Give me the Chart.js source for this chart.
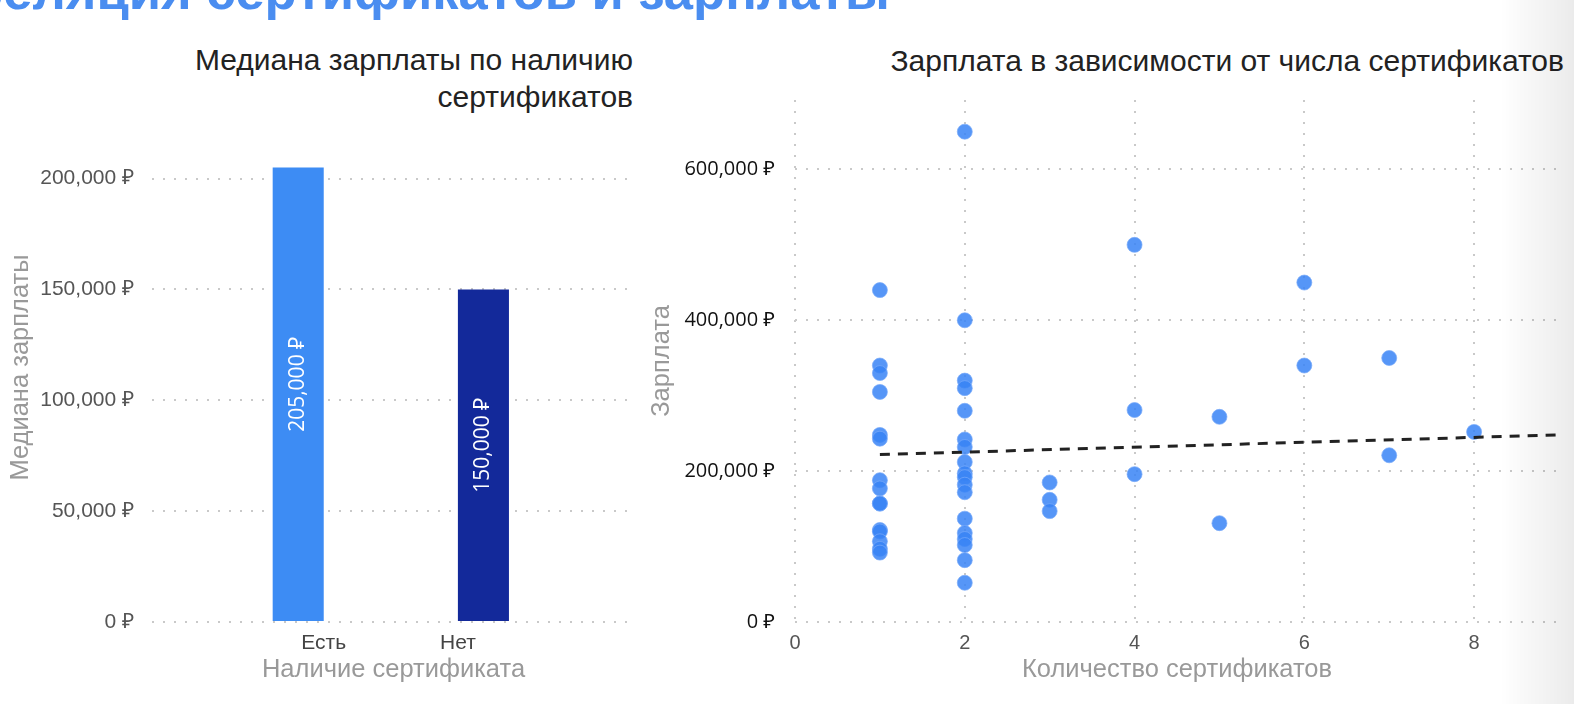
<!DOCTYPE html>
<html><head><meta charset="utf-8">
<script src="https://cdn.jsdelivr.net/npm/chart.js@4.4.1/dist/chart.umd.min.js"></script>
<style>
html,body{margin:0;padding:0;background:#fff;width:1574px;height:704px;overflow:hidden;position:relative;font-family:"Liberation Sans",Arial,sans-serif;}
#hdr{position:absolute;left:-125px;top:-35px;font:bold 52.5px/52px "Liberation Sans",Arial,sans-serif;color:#4a8df0;white-space:nowrap;}
.t{position:absolute;font-size:30px;color:#222;text-align:right;white-space:nowrap;line-height:37px;}
#t1{right:941px;top:41px;}
#t2{right:10px;top:42px;}
#w1{position:absolute;left:0;top:0;width:640px;height:704px;}
#w2{position:absolute;left:640px;top:0;width:934px;height:704px;}
#shade{position:absolute;left:1500px;top:0;width:74px;height:704px;background:linear-gradient(to right,rgba(0,0,0,0),rgba(0,0,0,0.08));pointer-events:none;}
</style></head>
<body>
<div id="hdr">Корреляция сертификатов и зарплаты</div>
<div class="t" id="t1">Медиана зарплаты по наличию<br>сертификатов</div>
<div class="t" id="t2">Зарплата в зависимости от числа сертификатов</div>
<div id="w1"><canvas id="c1" width="640" height="704"></canvas></div>
<div id="w2"><canvas id="c2" width="934" height="704"></canvas></div>
<div id="shade"></div>
<script>
// ---- Left chart data ----
const barCategories = ['Есть', 'Нет'];
const barMedians = [205000, 150000];
const barColors = ['#3d8cf4', '#13299a'];
const barYTicks = [0, 50000, 100000, 150000, 200000];

// ---- Right chart data ----
const certX = [
  1,1,1,1,1,1,1,1,1,1,1,1,1,1,1,
  2,2,2,2,2,2,2,2,2,2,2,2,2,2,2,2,2,2,
  3,3,3,
  4,4,4,
  5,5,
  6,6,
  7,7,
  8
];
const salaryY = [
  440000,340000,330000,305000,248000,243000,188000,177000,157000,157000,122000,120000,107000,97000,92000,
  650000,400000,320000,310000,280000,242000,232000,212000,197000,192000,182000,172000,137000,118000,110000,102000,82000,52000,
  185000,162000,147000,
  500000,281000,196000,
  272000,131000,
  450000,340000,
  350000,221000,
  252000
];
const trendX = [1, 9];
const trendY = [222000, 248000];
const scatterXTicks = [0, 2, 4, 6, 8];
const scatterYTicks = [0, 200000, 400000, 600000];

const rub = v => Number(v).toLocaleString('en-US') + ' ₽';

Chart.defaults.font.family = '"Liberation Sans", Arial, sans-serif';
Chart.defaults.animation = false;

const barLabelPlugin = {
  id: 'barLabels',
  afterDatasetsDraw(chart) {
    const ctx = chart.ctx;
    chart.data.datasets.forEach((ds, di) => {
      const meta = chart.getDatasetMeta(di);
      meta.data.forEach((el, i) => {
        const val = ds.data[i].y;
        ctx.save();
        ctx.translate(el.x, (el.y + el.base) / 2 - 10);
        ctx.rotate(-Math.PI / 2);
        ctx.fillStyle = '#ffffff';
        ctx.font = '21px "Open Sans", "Noto Sans", sans-serif';
        ctx.textAlign = 'center';
        ctx.textBaseline = 'middle';
        ctx.fillText(rub(val), 0, 0);
        ctx.restore();
      });
    });
  }
};

new Chart(document.getElementById('c1'), {
  type: 'bar',
  data: {
    datasets: barCategories.map((c, i) => ({
      label: c,
      data: [{x: i, y: barMedians[i]}],
      backgroundColor: barColors[i],
      categoryPercentage: 0.761,
      barPercentage: 1
    }))
  },
  options: {
    responsive: false,
    layout: {padding: {left: 0, right: 5, top: 113, bottom: 0}},
    plugins: {legend: {display: false}, tooltip: {enabled: false}},
    scales: {
      x: {
        type: 'linear', min: -1.28, max: 2.32, offset: false,
        afterBuildTicks: s => { s.ticks = barCategories.map((c, i) => ({value: i})); },
        afterFit: s => { s.height = 82; },
        grid: {display: false, drawTicks: false, offset: false},
        border: {display: false},
        ticks: {padding: 9, color: '#444', font: {size: 21}, callback: v => barCategories[v]},
        title: {display: true, text: 'Наличие сертификата', color: '#999', font: {size: 25.5}, padding: {top: 0, bottom: 19}}
      },
      y: {
        min: 0, max: 229600,
        afterBuildTicks: s => { s.ticks = barYTicks.map(v => ({value: v})); },
        afterFit: s => { s.width = 152; },
        grid: {color: '#c9c9c9', lineWidth: 2, drawTicks: false},
        border: {display: false, dash: [2, 9]},
        ticks: {padding: 18, color: '#555', font: {size: 21}, callback: v => rub(v)},
        title: {display: true, text: 'Медиана зарплаты', color: '#999', font: {size: 25.5}, padding: {top: 6, bottom: 0}}
      }
    }
  },
  plugins: [barLabelPlugin]
});

new Chart(document.getElementById('c2'), {
  type: 'scatter',
  data: {
    datasets: [
      {
        type: 'line',
        label: 'trend',
        data: trendX.map((x, i) => ({x: x, y: trendY[i]})),
        borderColor: '#222',
        borderWidth: 3,
        borderDash: [10, 8],
        pointRadius: 0,
        fill: false,
        order: 0
      },
      {
        label: 'salary',
        data: certX.map((x, i) => ({x: x, y: salaryY[i]})),
        backgroundColor: 'rgba(56,132,246,0.85)',
        borderColor: 'rgba(120,170,250,0.7)',
        borderWidth: 1,
        pointRadius: 7.5,
        order: 1
      }
    ]
  },
  options: {
    responsive: false,
    layout: {padding: {left: 0, right: 15, top: 100, bottom: 0}},
    plugins: {legend: {display: false}, tooltip: {enabled: false}},
    scales: {
      x: {
        type: 'linear', min: 0, max: 9,
        afterBuildTicks: s => { s.ticks = scatterXTicks.map(v => ({value: v})); },
        afterFit: s => { s.height = 82; },
        grid: {color: '#c9c9c9', lineWidth: 2, drawTicks: false},
        border: {display: false, dash: [2, 9]},
        ticks: {padding: 9, color: '#555', font: {size: 20}},
        title: {display: true, text: 'Количество сертификатов', color: '#999', font: {size: 25.5}, padding: {top: 0, bottom: 19}}
      },
      y: {
        min: 0, max: 692000,
        afterBuildTicks: s => { s.ticks = scatterYTicks.map(v => ({value: v})); },
        afterFit: s => { s.width = 155; },
        grid: {color: '#c9c9c9', lineWidth: 2, drawTicks: false},
        border: {display: false, dash: [2, 9]},
        ticks: {padding: 20, color: '#111', font: {size: 20, family: '"Open Sans", "Noto Sans", sans-serif'}, callback: v => rub(v)},
        title: {display: true, text: 'Зарплата', color: '#999', font: {size: 25.5}, padding: {top: 7, bottom: 0}}
      }
    }
  }
});
</script>
</body></html>
